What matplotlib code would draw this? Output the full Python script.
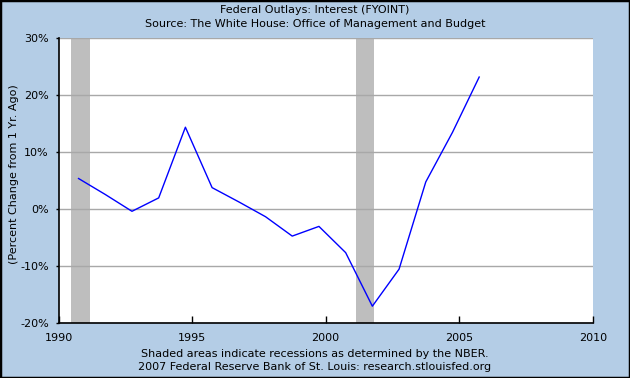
import matplotlib
matplotlib.use("Agg")
import matplotlib.pyplot as plt
from matplotlib.patches import Rectangle

# fiscal year points, dated about Oct 1 of each year
years = [1990.75, 1991.75, 1992.75, 1993.75, 1994.75, 1995.75, 1996.75, 1997.75,
         1998.75, 1999.75, 2000.75, 2001.75, 2002.75, 2003.75, 2004.75, 2005.75]
pct_change = [5.4, 2.6, -0.35, 2.0, 14.4, 3.8, 1.3, -1.3,
              -4.7, -3.0, -7.6, -17.0, -10.5, 4.8, 13.5, 23.2]

recessions = [(1990.45, 1991.17), (2001.12, 2001.83)]

yticks = [-20, -10, 0, 10, 20, 30]
xticks = [1990, 1995, 2000, 2005, 2010]

bg = "#b4cde6"

fig = plt.figure(figsize=(6.3, 3.78), dpi=100, facecolor=bg)
ax = fig.add_axes([0.0929, 0.1447, 0.8479, 0.754])
ax.set_facecolor("white")

for start, end in recessions:
    ax.axvspan(start, end, color="#bebebe", lw=0, zorder=1)

for t in yticks:
    ax.axhline(t, color="#a8a8a8", lw=1, zorder=2)

ax.plot(years, pct_change, color="#0000ff", lw=1, zorder=3)

ax.set_xlim(1990, 2010)
ax.set_ylim(-20, 30)
ax.set_xticks(xticks)
ax.set_xticklabels([str(x) for x in xticks])
ax.set_yticks(yticks)
ax.set_yticklabels(["{}%".format(t) for t in yticks])

ax.spines["top"].set_visible(False)
ax.spines["right"].set_visible(False)
ax.spines["left"].set_color("black")
ax.spines["bottom"].set_color("black")
ax.spines["left"].set_linewidth(1.2)
ax.spines["bottom"].set_linewidth(1.2)
ax.spines["left"].set_zorder(4)
ax.spines["bottom"].set_zorder(4)

ax.tick_params(axis="x", direction="in", length=5, width=1, pad=7, labelsize=8, colors="black")
ax.tick_params(axis="y", direction="out", length=2, width=1, pad=5, labelsize=8, colors="black")

fig.text(0.5, 1 - 10 / 378, "Federal Outlays: Interest (FYOINT)",
         ha="center", va="center", fontsize=8)
fig.text(0.5, 1 - 24 / 378, "Source: The White House: Office of Management and Budget",
         ha="center", va="center", fontsize=8)
fig.text(0.5, 1 - 354 / 378, "Shaded areas indicate recessions as determined by the NBER.",
         ha="center", va="center", fontsize=8)
fig.text(0.5, 1 - 367 / 378, "2007 Federal Reserve Bank of St. Louis: research.stlouisfed.org",
         ha="center", va="center", fontsize=8)
fig.text(14 / 630, 1 - 174 / 378, "(Percent Change from 1 Yr. Ago)",
         ha="center", va="center", rotation=90, fontsize=8)

# dark frame around the whole picture
fig.patches.append(Rectangle((0, 0), 1, 1, transform=fig.transFigure,
                             fill=False, edgecolor="black", lw=2.5))

fig.savefig("out.png", dpi=100, facecolor=bg)
